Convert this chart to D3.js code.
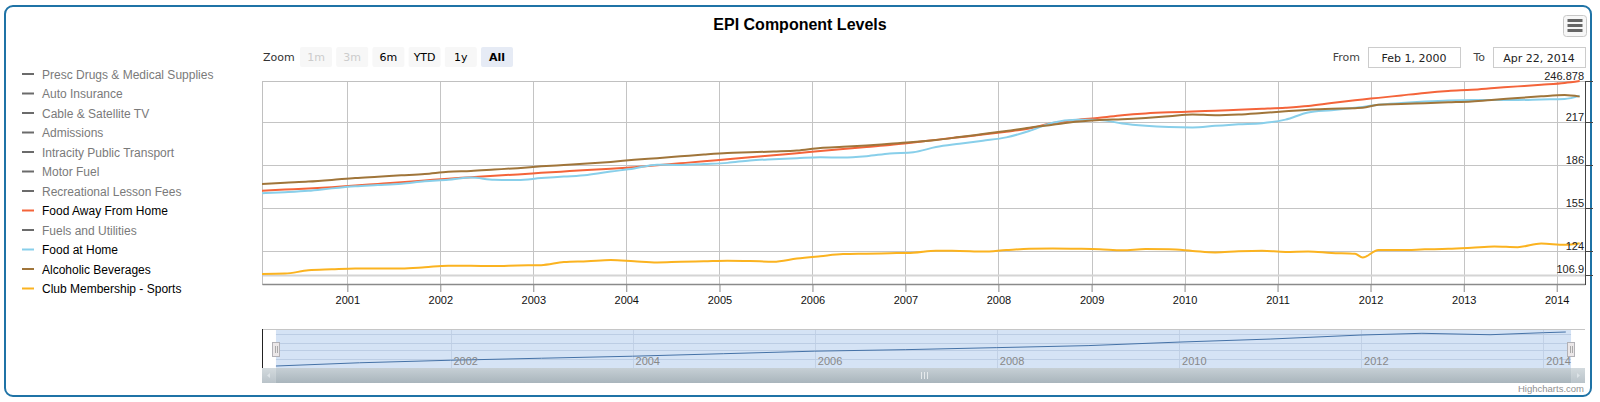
<!DOCTYPE html>
<meta charset="utf-8">

<!-- Load d3.js -->
<script src="https://d3js.org/d3.v7.min.js"></script>

<style>
  body { margin: 0; background: #fff; }
</style>

<!-- Create a div where the graph will take place -->
<div id="my_dataviz"></div>

<script>
// ---- data (quarterly readings, index levels) ----
var dates = [
  "2000-02","2000-05","2000-08","2000-11",
  "2001-02","2001-05","2001-08","2001-11",
  "2002-02","2002-05","2002-08","2002-11",
  "2003-02","2003-05","2003-08","2003-11",
  "2004-02","2004-05","2004-08","2004-11",
  "2005-02","2005-05","2005-08","2005-11",
  "2006-02","2006-05","2006-08","2006-11",
  "2007-02","2007-05","2007-08","2007-11",
  "2008-02","2008-05","2008-08","2008-11",
  "2009-02","2009-05","2009-08","2009-11",
  "2010-02","2010-05","2010-08","2010-11",
  "2011-02","2011-05","2011-08","2011-11","2011-12",
  "2012-02","2012-05","2012-08","2012-11",
  "2013-02","2013-05","2013-08","2013-11",
  "2014-02","2014-04"
];

var foodAway = [
  167.7, 168.5, 169.3, 170.3,
  171.5, 172.6, 173.8, 175.1,
  176.4, 177.4, 178.5, 179.5,
  180.6, 181.6, 182.6, 183.5,
  184.7, 186.1, 187.5, 188.9,
  190.4, 191.8, 193.3, 194.7,
  196.4, 197.8, 199.3, 200.7,
  202.5, 204.4, 206.3, 208.2,
  210.3, 212.6, 216.5, 218.8,
  220.3, 222.2, 223.5, 224.3,
  224.8, 225.5, 226.1, 226.8,
  227.6, 228.8, 231.0, 233.0, 233.6,
  234.7, 236.5, 238.3, 239.7,
  240.6, 241.8, 243.0, 244.2,
  245.5, 246.878
];

var foodHome = [
  165.9, 166.6, 167.6, 169.4,
  170.9, 171.8, 172.8, 174.5,
  175.6, 177.2, 175.6, 175.4,
  176.8, 177.9, 179.1, 181.5,
  183.8, 186.5, 186.3, 187.0,
  187.8, 189.6, 190.5, 191.2,
  191.8, 191.6, 192.6, 194.6,
  195.5, 199.2, 201.6, 203.8,
  206.2, 210.8, 216.8, 218.9,
  218.8, 216.2, 214.6, 213.7,
  213.4, 214.5, 215.6, 216.4,
  219.0, 224.2, 225.8, 227.6, 228.2,
  229.8, 231.0, 232.0, 232.8,
  233.2, 233.2, 233.2, 233.6,
  233.9, 236.3
];

var alcohol = [
  172.6, 173.5, 174.3, 175.5,
  176.9, 177.8, 178.8, 179.8,
  181.4, 182.0, 183.0, 184.0,
  185.3, 186.3, 187.3, 188.5,
  190.0, 191.2, 192.5, 193.8,
  194.9, 195.4, 196.0, 196.7,
  198.6, 199.4, 200.4, 201.6,
  202.8, 204.3, 206.4, 208.6,
  210.8, 213.2, 215.3, 217.4,
  218.8, 219.3, 220.2, 221.4,
  222.7, 222.2, 222.7, 223.8,
  225.0, 226.2, 226.8, 227.3, 227.5,
  229.8, 230.3, 230.9, 231.5,
  232.1, 233.3, 234.6, 235.8,
  236.7, 235.6
];

var clubSports = [
  107.7, 107.9, 110.3, 111.0,
  111.6, 111.5, 111.6, 112.5,
  113.6, 113.5, 113.4, 113.8,
  114.0, 116.2, 116.8, 117.7,
  116.8, 116.0, 116.5, 116.8,
  117.2, 117.0, 116.5, 118.8,
  120.5, 122.0, 122.3, 122.6,
  123.0, 124.4, 124.3, 123.8,
  124.9, 125.8, 126.0, 125.8,
  125.5, 124.8, 125.6, 125.4,
  124.3, 123.2, 124.0, 124.4,
  123.5, 123.8, 122.8, 122.2, 119.5,
  125.0, 124.9, 125.4, 125.8,
  126.6, 127.5, 127.0, 129.6,
  128.7, 129.8
];

// navigator series (first series, whole range)
var navDates  = ["2000-02","2001-01","2002-01","2003-01","2004-01","2005-01","2006-01","2007-01","2008-01","2009-01","2010-01","2011-01","2012-01","2012-09","2013-06","2014-01","2014-04"];
var navValues = [100, 103.2, 105.7, 107.7, 109.7, 112.2, 114.7, 116.2, 118.2, 120.2, 123.7, 126.7, 130.7, 132.4, 131.0, 133.0, 133.7];
var navTicks  = [107, 116, 123, 131.7];

// y axis tick labels
var yTicks = [106.9, 124, 155, 186, 217, 246.878];

// legend
var legendNames = [
  "Presc Drugs & Medical Supplies", "Auto Insurance", "Cable & Satellite TV", "Admissions",
  "Intracity Public Transport", "Motor Fuel", "Recreational Lesson Fees", "Food Away From Home",
  "Fuels and Utilities", "Food at Home", "Alcoholic Beverages", "Club Membership - Sports"
];
var legendColors = [null, null, null, null, null, null, null, "#f4643a", null, "#88cfea", "#a0753a", "#fbb320"];

var zoomButtons = ["1m", "3m", "6m", "YTD", "1y", "All"];

// ---- setup ----
var W = 1600, H = 402;
var sans = "'Liberation Sans', Arial, Helvetica, sans-serif";
var ui = "'DejaVu Sans', Verdana, sans-serif";
var parseMonth = d3.timeParse("%Y-%m");

var svg = d3.select("#my_dataviz")
  .append("svg")
    .attr("width", W)
    .attr("height", H)
    .style("font-family", sans);

// outer rounded frame
svg.append("rect")
  .attr("x", 5).attr("y", 6)
  .attr("width", 1586).attr("height", 390)
  .attr("rx", 8)
  .attr("fill", "#fff")
  .attr("stroke", "#1f73a6")
  .attr("stroke-width", 2);

// title
svg.append("text")
  .attr("x", 800).attr("y", 30)
  .attr("text-anchor", "middle")
  .style("font-size", "16px")
  .style("font-weight", "bold")
  .attr("fill", "#000")
  .text("EPI Component Levels");

// menu button
var menu = svg.append("g");
menu.append("rect")
  .attr("x", 1563.5).attr("y", 15.5).attr("width", 23).attr("height", 21).attr("rx", 3)
  .attr("fill", "#f7f7f7").attr("stroke", "#c8c8c8");
[20.5, 25.5, 30.5].forEach(function(yy) {
  menu.append("line")
    .attr("x1", 1567.5).attr("x2", 1582.5).attr("y1", yy).attr("y2", yy)
    .attr("stroke", "#666").attr("stroke-width", 3);
});

// ---- scales ----
var pLeft = 262, pRight = 1585, pTop = 81, pBottom = 284;
var x = d3.scaleTime()
  .domain([new Date(2000, 1, 1), new Date(2014, 3, 22)])
  .range([pLeft, pRight]);
var y = d3.scaleLinear()
  .domain([100.4, 246.878])
  .range([pBottom, pTop]);

// ---- range selector ----
svg.append("text")
  .attr("x", 263).attr("y", 61)
  .style("font-family", ui).style("font-size", "11px")
  .attr("fill", "#333")
  .text("Zoom");

var btn = svg.selectAll("g.btn")
  .data(zoomButtons)
  .enter().append("g")
  .attr("transform", function(d, i) { return "translate(" + (300 + i * 36.2) + ",47)"; });
btn.append("rect")
  .attr("width", 32).attr("height", 20).attr("rx", 2)
  .attr("fill", function(d) { return d === "All" ? "#e6ebf5" : "#f7f7f7"; });
btn.append("text")
  .attr("x", 16).attr("y", 14)
  .attr("text-anchor", "middle")
  .style("font-family", ui).style("font-size", "11px")
  .style("font-weight", function(d) { return d === "All" ? "bold" : "normal"; })
  .attr("fill", function(d) { return (d === "1m" || d === "3m") ? "#cccccc" : "#000"; })
  .text(function(d) { return d; });

// from / to boxes
[["From", 1360, 1368, "Feb 1, 2000"], ["To", 1485, 1493, "Apr 22, 2014"]].forEach(function(b) {
  svg.append("text")
    .attr("x", b[1]).attr("y", 61).attr("text-anchor", "end")
    .style("font-family", ui).style("font-size", "11px")
    .attr("fill", "#444").text(b[0]);
  svg.append("rect")
    .attr("x", b[2] + 0.5).attr("y", 47.5).attr("width", 92).attr("height", 20)
    .attr("fill", "#fff").attr("stroke", "#cccccc");
  svg.append("text")
    .attr("x", b[2] + 46).attr("y", 61.5).attr("text-anchor", "middle")
    .style("font-family", ui).style("font-size", "11px")
    .attr("fill", "#222").text(b[3]);
});

// ---- legend ----
var leg = svg.selectAll("g.leg")
  .data(legendNames)
  .enter().append("g")
  .attr("transform", function(d, i) { return "translate(0," + (74 + i * 19.5) + ")"; });
leg.append("line")
  .attr("x1", 22).attr("x2", 34)
  .attr("stroke", function(d, i) { return legendColors[i] || "#6b6b6b"; })
  .attr("stroke-width", 2);
leg.append("text")
  .attr("x", 42).attr("y", 4.5)
  .style("font-size", "12px")
  .attr("fill", function(d, i) { return legendColors[i] ? "#000" : "#7a7a7a"; })
  .text(function(d) { return d; });

// ---- plot grid ----
var xTicks = x.ticks(d3.timeYear);

svg.append("g").selectAll("line")
  .data(xTicks).enter().append("line")
  .attr("x1", function(d) { return Math.round(x(d)) + 0.5; })
  .attr("x2", function(d) { return Math.round(x(d)) + 0.5; })
  .attr("y1", pTop).attr("y2", pBottom)
  .attr("stroke", "#c4c4c4");

svg.append("g").selectAll("line")
  .data(yTicks).enter().append("line")
  .attr("x1", pLeft).attr("x2", pRight)
  .attr("y1", function(d) { return Math.round(y(d)) + 0.5; })
  .attr("y2", function(d) { return Math.round(y(d)) + 0.5; })
  .attr("stroke", function(d) { return d === 106.9 ? "#d4d4d4" : "#c4c4c4"; })
  .attr("stroke-width", function(d) { return d === 106.9 ? 2 : 1; });

// plot frame
svg.append("rect")
  .attr("x", pLeft + 0.5).attr("y", pTop + 0.5)
  .attr("width", pRight - pLeft).attr("height", pBottom - pTop)
  .attr("fill", "none").attr("stroke", "#c0c0c0");

// ---- series ----
svg.append("clipPath").attr("id", "plotclip")
  .append("rect").attr("x", pLeft).attr("y", pTop - 3)
  .attr("width", pRight - pLeft + 2).attr("height", pBottom - pTop + 3);

var series = [
  {name: "Food Away From Home", values: foodAway, color: legendColors[7]},
  {name: "Food at Home", values: foodHome, color: legendColors[9]},
  {name: "Alcoholic Beverages", values: alcohol, color: legendColors[10]},
  {name: "Club Membership - Sports", values: clubSports, color: legendColors[11]}
];

var line = d3.line()
  .x(function(d) { return x(d.date); })
  .y(function(d) { return y(d.value); })
  .curve(d3.curveMonotoneX);

svg.append("g").attr("clip-path", "url(#plotclip)")
  .selectAll("path")
  .data(series).enter().append("path")
  .attr("d", function(s) {
    return line(dates.map(function(dt, i) { return {date: parseMonth(dt), value: s.values[i]}; }));
  })
  .attr("fill", "none")
  .attr("stroke", function(s) { return s.color; })
  .attr("stroke-width", 2)
  .attr("stroke-linejoin", "round");

// ---- x axis ----
var xAxis = svg.append("g")
  .attr("transform", "translate(0," + pBottom + ")")
  .call(d3.axisBottom(x).ticks(d3.timeYear).tickFormat(d3.timeFormat("%Y")).tickSize(8).tickPadding(4).tickSizeOuter(0));
xAxis.select(".domain").attr("stroke", "#8a8a8a").attr("stroke-width", 1.5);
xAxis.selectAll(".tick line").attr("stroke", "#8a8a8a");
xAxis.selectAll("text")
  .style("font-family", sans).style("font-size", "11px")
  .attr("fill", "#111");

// ---- y axis (right) ----
svg.append("line")
  .attr("x1", pRight + 0.5).attr("x2", pRight + 0.5)
  .attr("y1", pTop).attr("y2", pBottom + 1)
  .attr("stroke", "#444");
svg.append("g").selectAll("line")
  .data(yTicks).enter().append("line")
  .attr("x1", pRight).attr("x2", pRight + 8)
  .attr("y1", function(d) { return Math.round(y(d)) + 0.5; })
  .attr("y2", function(d) { return Math.round(y(d)) + 0.5; })
  .attr("stroke", "#444");
svg.append("g").selectAll("text")
  .data(yTicks).enter().append("text")
  .attr("x", pRight - 1)
  .attr("y", function(d) { return y(d) - 1.5; })
  .attr("text-anchor", "end")
  .style("font-size", "11px")
  .attr("fill", "#222")
  .text(function(d) { return d; });

// ---- navigator ----
var navTop = 329, navBottom = 368;
var navX = d3.scaleTime()
  .domain([new Date(1999, 11, 7), new Date(2014, 5, 17)])
  .range([pLeft, pRight]);
var navY = d3.scaleLinear()
  .domain([100, 133.7])
  .range([366, 332]);

var selL = navX(new Date(2000, 1, 1)), selR = navX(new Date(2014, 3, 22));

svg.append("rect")
  .attr("x", selL).attr("y", navTop)
  .attr("width", selR - selL).attr("height", navBottom - navTop)
  .attr("fill", "#d5e3f5");

var navYears = navX.ticks(d3.timeYear.every(2)).filter(function(d) { return d.getFullYear() >= 2002; });

svg.append("g").selectAll("line")
  .data(navYears).enter().append("line")
  .attr("x1", function(d) { return Math.round(navX(d)) + 0.5; })
  .attr("x2", function(d) { return Math.round(navX(d)) + 0.5; })
  .attr("y1", navTop).attr("y2", navBottom)
  .attr("stroke", "#c2d1e6");

svg.append("g").selectAll("line")
  .data(navTicks).enter().append("line")
  .attr("x1", selL).attr("x2", selR)
  .attr("y1", function(d) { return Math.round(navY(d)) + 0.5; })
  .attr("y2", function(d) { return Math.round(navY(d)) + 0.5; })
  .attr("stroke", "#bccde4");

svg.append("path")
  .attr("d", d3.line()
    .x(function(d, i) { return navX(parseMonth(navDates[i])); })
    .y(function(d) { return navY(d); })(navValues))
  .attr("fill", "none")
  .attr("stroke", "#4572a7")
  .attr("stroke-width", 1);

svg.append("g").selectAll("text")
  .data(navYears).enter().append("text")
  .attr("x", function(d) { return navX(d) + 3; })
  .attr("y", 365)
  .style("font-size", "11px")
  .attr("fill", "#888")
  .text(function(d) { return d.getFullYear(); });

// navigator outline
svg.append("line")
  .attr("x1", pLeft).attr("x2", pRight).attr("y1", navTop + 0.5).attr("y2", navTop + 0.5)
  .attr("stroke", "#c6c6c6");
svg.append("line")
  .attr("x1", pLeft + 0.5).attr("x2", pLeft + 0.5).attr("y1", navTop).attr("y2", navBottom)
  .attr("stroke", "#222");

// handles
[selL, selR].forEach(function(hx) {
  var g = svg.append("g").attr("transform", "translate(" + (Math.round(hx) - 4) + ",342)");
  g.append("rect").attr("x", 0.5).attr("y", 0.5).attr("width", 7).attr("height", 14)
    .attr("fill", "#ebe7e8").attr("stroke", "#b2b1b6");
  [3.5, 5.5].forEach(function(lx) {
    g.append("line").attr("x1", lx).attr("x2", lx).attr("y1", 4).attr("y2", 11).attr("stroke", "#aaa");
  });
});

// scrollbar
var grad = svg.append("defs").append("linearGradient")
  .attr("id", "sbar").attr("x1", 0).attr("x2", 0).attr("y1", 0).attr("y2", 1);
grad.append("stop").attr("offset", "0%").attr("stop-color", "#c6cfd5");
grad.append("stop").attr("offset", "100%").attr("stop-color", "#a9b5bc");
var gradB = svg.select("defs").append("linearGradient")
  .attr("id", "sbtn").attr("x1", 0).attr("x2", 0).attr("y1", 0).attr("y2", 1);
gradB.append("stop").attr("offset", "0%").attr("stop-color", "#d3dade");
gradB.append("stop").attr("offset", "100%").attr("stop-color", "#b9c3c9");

svg.append("rect")
  .attr("x", selL).attr("y", navBottom)
  .attr("width", selR - selL).attr("height", 15)
  .attr("fill", "url(#sbar)");
[[pLeft, selL], [selR, pRight]].forEach(function(b) {
  svg.append("rect")
    .attr("x", b[0]).attr("y", navBottom)
    .attr("width", b[1] - b[0]).attr("height", 15)
    .attr("fill", "url(#sbtn)");
});
svg.append("path")
  .attr("d", "M" + (pLeft + 8) + "," + (navBottom + 5) + "L" + (pLeft + 5) + "," + (navBottom + 7.5) + "L" + (pLeft + 8) + "," + (navBottom + 10) + "Z")
  .attr("fill", "#dde3e7");
svg.append("path")
  .attr("d", "M" + (pRight - 8) + "," + (navBottom + 5) + "L" + (pRight - 5) + "," + (navBottom + 7.5) + "L" + (pRight - 8) + "," + (navBottom + 10) + "Z")
  .attr("fill", "#dde3e7");
var mid = Math.round((selL + selR) / 2);
[-3, 0, 3].forEach(function(o) {
  svg.append("line")
    .attr("x1", mid + o + 0.5).attr("x2", mid + o + 0.5)
    .attr("y1", navBottom + 4).attr("y2", navBottom + 11)
    .attr("stroke", "#e6eaec");
});

// credits
svg.append("text")
  .attr("x", 1584).attr("y", 392)
  .attr("text-anchor", "end")
  .style("font-size", "9.5px")
  .attr("fill", "#909090")
  .text("Highcharts.com");
</script>
